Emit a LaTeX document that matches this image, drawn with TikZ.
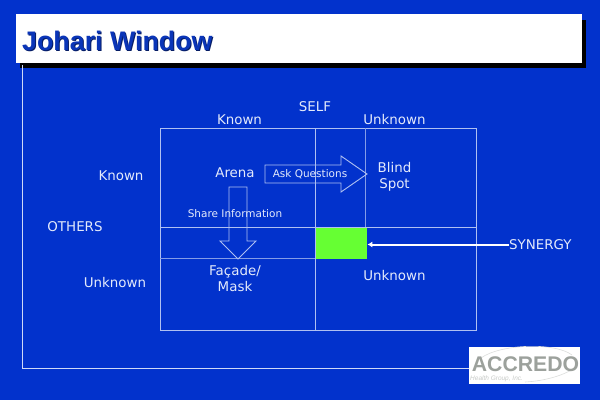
\documentclass[tikz,border=0pt]{standalone}
\usepackage{fontspec}
\usetikzlibrary{arrows.meta}
\setmainfont{DejaVu Sans}
\newfontfamily\titlefont{Liberation Sans}
\definecolor{bgblue}{HTML}{0232CC}
\definecolor{linelt}{HTML}{AFC0F2}
\definecolor{textlt}{HTML}{E4EAFB}
\definecolor{titleblue}{HTML}{0A35B8}
\definecolor{grn}{HTML}{66FF33}
\definecolor{logogrey}{HTML}{9CA19C}
\tikzset{
  lbl/.style={text=textlt,font=\fontsize{13.4}{16}\selectfont,align=center,inner sep=0pt},
  small/.style={text=textlt,font=\fontsize{10.5}{12}\selectfont,inner sep=0pt},
  gridline/.style={draw=linelt,line width=1pt},
  thinline/.style={draw=linelt!75!bgblue,line width=0.7pt},
  bigarrow/.style={draw=linelt,line width=0.9pt},
  titletxt/.style={anchor=west,inner sep=0pt,font=\titlefont\bfseries\fontsize{26.8}{30}\selectfont}
}
\begin{document}
\begin{tikzpicture}[x=1pt,y=-1pt]
\useasboundingbox (0,0) rectangle (600,400);
\fill[bgblue] (0,0) rectangle (600,400);
\fill[black] (20,20) rectangle (586,67.5);
\node[draw=none,fill=white,minimum width=566pt,minimum height=48.5pt,inner sep=0pt,anchor=north west] (title) at (15.5,14) {};
\node[titletxt,text=titleblue!55!black] (titleshadow) at (23,41.5) {Johari Window};
\node[titletxt,text=titleblue] (titletext) at (22,40.5) {Johari Window};
\node[draw=none,fill=white,minimum width=111pt,minimum height=37pt,inner sep=0pt,anchor=north west] (logo) at (469,346.5) {};
\coordinate (corner) at (22,368);
\draw[draw=linelt!60!white,line width=1pt] (22,65) -- (corner) -- (corner -| logo.west);
% logo
\draw[logogrey!35!white,line width=0.6pt] (481,358) .. controls (500,344) and (555,342) .. (572,355);
\draw[logogrey!35!white,line width=0.6pt] (525,382) .. controls (545,381) and (565,375) .. (574,368);
\node[inner sep=0pt,text=logogrey,font=\titlefont\bfseries\fontsize{21.2}{24}\selectfont] (acc) at (525.5,364.5) {ACCREDO};
\node[inner sep=0pt,anchor=west,text=logogrey!55!white,font=\titlefont\itshape\fontsize{6.5}{7}\selectfont] (hg) at (470,378.5) {Health Group, Inc.};
% green
\node[fill=grn,draw=none,minimum width=52pt,minimum height=32pt,inner sep=0pt,anchor=north west] (green) at (315,227) {};
% grid
\draw[gridline] (160,128) rectangle (476,330);
\draw[gridline] (315,128) -- (315,330);
\draw[gridline] (160,227) -- (476,227);
\draw[thinline] (365.5,128) -- (365.5,227);
\draw[thinline] (160,258) -- (315,258);
% big arrows
\draw[bigarrow] (265,165) -- (341,165) -- (341,156) -- (367,174) -- (341,192) -- (341,183) -- (265,183) -- cycle;
\draw[bigarrow] (229,187) -- (247,187) -- (247,241) -- (256,241) -- (238,259) -- (220,241) -- (229,241) -- cycle;
% labels
\node[lbl] (self) at (315,106.5) {SELF};
\node[lbl] (k1) at (239.5,119.5) {Known};
\node[lbl] (u1) at (394.5,119.5) {Unknown};
\node[lbl] (k2) at (121,175.5) {Known};
\node[lbl] (others) at (75,226.5) {OTHERS};
\node[lbl] (u2) at (115,282) {Unknown};
\node[lbl] (arena) at (235,173) {Arena};
\node[lbl] (blind) at (394.5,176.5) {Blind\\Spot};
\node[lbl] (facade) at (235,278.5) {Façade/\\Mask};
\node[lbl] (u3) at (394.5,275.5) {Unknown};
\node[small] (ask) at (310,174.5) {Ask Questions};
\node[small] (share) at (235,214) {Share Information};
\node[lbl,anchor=west] (syn) at (509,244.5) {SYNERGY};
\draw[white,line width=2pt,-{Latex[length=5pt,width=6pt]}] (syn.west) -- (syn.west -| green.east);
\end{tikzpicture}
\end{document}
